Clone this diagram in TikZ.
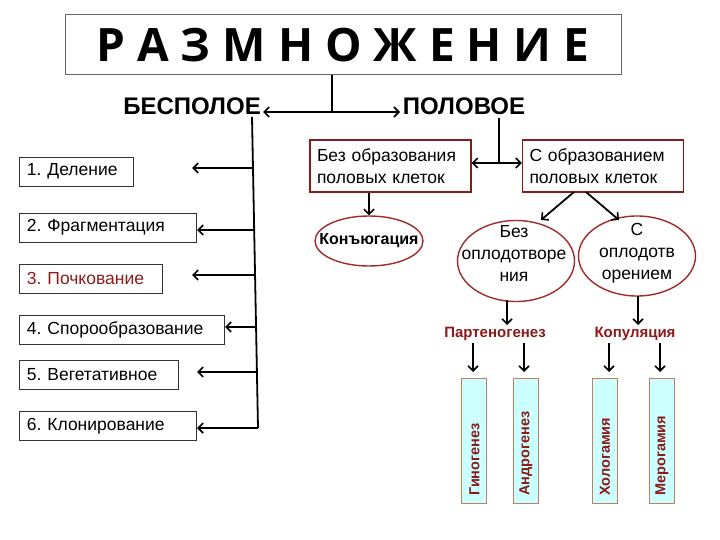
\documentclass[tikz,border=0pt]{standalone}
\usepackage{fontspec}
\setmainfont{Liberation Sans}
\newfontfamily\titlefont{Open Sans}
\usetikzlibrary{arrows.meta,shapes.geometric}
\definecolor{dred}{HTML}{8B1A1A}
\definecolor{ered}{HTML}{A32A2A}
\definecolor{barfill}{HTML}{CCFFFF}
\definecolor{barline}{HTML}{C08060}
\frenchspacing
\tikzset{
  conn/.style={line width=1.8pt,-{Straight Barb[length=5pt,width=10pt,line width=1.6pt]}},
  twoway/.style={line width=1.8pt,{Straight Barb[length=5pt,width=10pt,line width=1.6pt]}-{Straight Barb[length=5pt,width=10pt,line width=1.6pt]}},
  plain/.style={line width=1.8pt},
  leftbox/.style={draw=black!80,line width=0.8pt,minimum height=29pt,inner ysep=0pt,inner xsep=8pt,align=left,font=\fontsize{17.5}{20}\selectfont},
  rbox/.style={draw=dred,line width=1.2pt,minimum height=52pt,inner ysep=0pt,inner xsep=7pt,text width=147pt,align=left,font=\fontsize{17.5}{22}\selectfont},
  ell/.style={draw=ered,line width=1.4pt,ellipse,inner sep=0pt},
  bar/.style={draw=barline,fill=barfill,line width=1pt,minimum width=25pt,minimum height=125pt,inner sep=0pt},
  bartext/.style={rotate=90,anchor=west,text=dred,inner sep=0pt,font=\bfseries\fontsize{14.5}{16}\selectfont},
  head/.style={font=\bfseries\fontsize{24}{28}\selectfont,inner sep=0pt},
  sub/.style={text=dred,font=\bfseries\fontsize{15}{18}\selectfont,inner sep=0pt}
}
\begin{document}
\begin{tikzpicture}[x=1pt,y=-1pt]
\useasboundingbox (0,0) rectangle (720,540);
% title
\node[draw=black!60,line width=1pt,minimum width=556pt,minimum height=60pt,inner sep=0pt,
  font=\titlefont\bfseries\fontsize{46}{50}\selectfont] (title) at (343,45) {Р А З М Н О Ж Е Н И Е};
\node[head] (bes) at (192,106) {БЕСПОЛОЕ};
\node[head] (pol) at (464,106) {ПОЛОВОЕ};
\coordinate (tb) at (332,75);
\coordinate (tj) at (332,112);
\coordinate (bl) at (263,112);
\coordinate (br) at (400,112);
\draw[plain] (tb) -- (tj);
\draw[twoway] (bl) -- (br);
% left branch
\node[leftbox,text width=98pt] (b1) at (76,171.5) {1. Деление};
\node[leftbox,text width=161pt] (b2) at (107.5,227.5) {2. Фрагментация};
\node[leftbox,text width=127pt,text=dred] (b3) at (90.5,278.5) {3. Почкование};
\node[leftbox,text width=189pt] (b4) at (121.5,330) {4. Спорообразование};
\node[leftbox,text width=143pt] (b5) at (98.5,375) {5. Вегетативное};
\node[leftbox,text width=161pt] (b6) at (107.5,426) {6. Клонирование};
\coordinate (ttop) at (252,117);
\coordinate (tbot) at (258,428);
\draw[plain] (ttop) -- (tbot);
\coordinate (t1) at (253.0,168); \coordinate (a1) at (192,168);
\coordinate (t2) at (254.2,230); \coordinate (a2) at (197,230);
\coordinate (t3) at (255.0,275); \coordinate (a3) at (192,275);
\coordinate (t4) at (256.1,327); \coordinate (a4) at (225,327);
\coordinate (t5) at (256.9,372); \coordinate (a5) at (197,372);
\coordinate (t6) at (258.0,428); \coordinate (a6) at (197,428);
\foreach \i in {1,...,6} {\draw[conn] (t\i) -- (a\i);}
% right branch
\node[rbox] (ra) at (390.5,166) {Без образования\\половых клеток};
\node[rbox] (rb) at (603,166) {С образованием\\половых клеток};
\coordinate (pv1) at (499,118);
\coordinate (pv2) at (499,163);
\draw[plain] (pv1) -- (pv2);
\draw[twoway] (ra.east |- pv2) -- (rb.west |- pv2);
\node[ell,minimum width=108pt,minimum height=50pt] (conj) at (369,241) {};
\node[font=\bfseries\fontsize{16}{18}\selectfont,inner sep=0pt] (conjt) at (369,241) {Конъюгация};
\draw[conn] (ra.south -| conj) -- (conj.north);
\node[ell,minimum width=117pt,minimum height=81pt] (e1) at (516,261) {};
\node[ell,minimum width=117pt,minimum height=80pt] (e2) at (637,256) {};
\node[align=center,font=\fontsize{17.5}{22}\selectfont,inner sep=0pt] (e1t) at (514,253) {Без\\оплодотворе\\ния};
\node[align=center,font=\fontsize{17.5}{22}\selectfont,inner sep=0pt] (e2t) at (637,253) {С\\оплодотв\\орением};
\coordinate (rs1) at (574,192); \coordinate (rt1) at (541,220);
\coordinate (rs2) at (586,192); \coordinate (rt2) at (619,220);
\draw[conn] (rs1) -- (rt1);
\draw[conn] (rs2) -- (rt2);
\node[sub] (part) at (495,334) {Партеногенез};
\node[sub] (kop) at (635,334) {Копуляция};
\coordinate (p1) at (507,300); \coordinate (p2) at (507,325);
\coordinate (k1) at (638,296); \coordinate (k2) at (638,325);
\draw[conn] (p1) -- (p2);
\draw[conn] (k1) -- (k2);
% bars
\node[bar] (g1) at (474,440.5) {};
\node[bar] (g2) at (525.5,440.5) {};
\node[bar] (g3) at (604.5,440.5) {};
\node[bar] (g4) at (661.5,440.5) {};
\node[bartext] at (474.5,496) {Гиногенез};
\node[bartext] at (526,496) {Андрогенез};
\node[bartext] at (605,496) {Хологамия};
\node[bartext] at (662,496) {Мерогамия};
\coordinate (s1) at (473,343); \coordinate (s2) at (524,343);
\coordinate (s3) at (609,343); \coordinate (s4) at (660,343);
\coordinate (e1e) at (473,372); \coordinate (e2e) at (524,372);
\coordinate (e3e) at (609,372); \coordinate (e4e) at (660,372);
\draw[conn] (s1) -- (e1e);
\draw[conn] (s2) -- (e2e);
\draw[conn] (s3) -- (e3e);
\draw[conn] (s4) -- (e4e);
\end{tikzpicture}
\end{document}
